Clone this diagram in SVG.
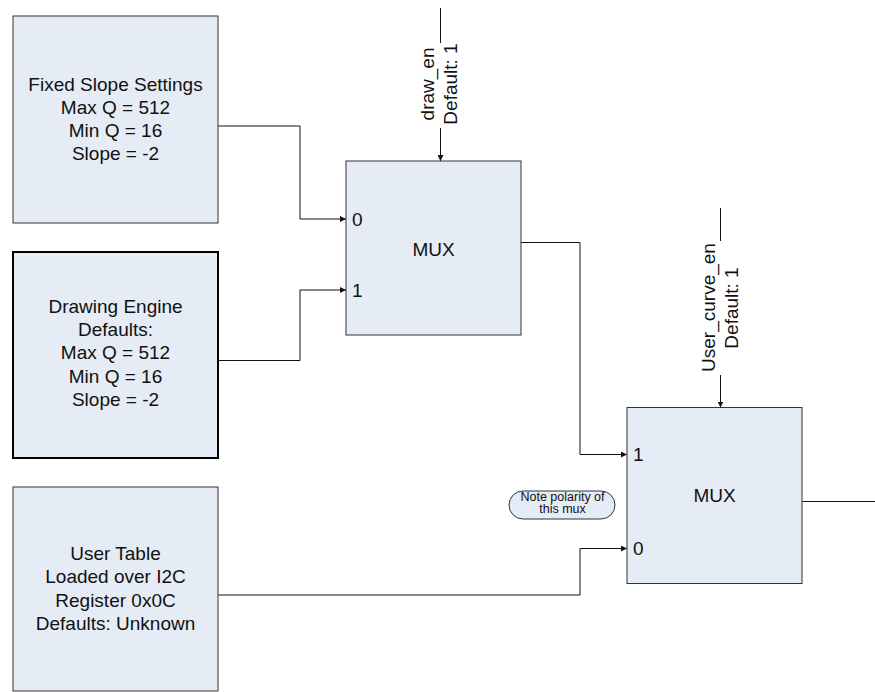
<svg xmlns="http://www.w3.org/2000/svg" width="875" height="692" viewBox="0 0 875 692">
<defs>
<style>
.box{fill:#e6ecf6;stroke:#333;stroke-width:1}
.thick{stroke:#000;stroke-width:2}
.t{font-family:"Liberation Sans",Arial,sans-serif;font-size:19px;fill:#111;text-anchor:middle}
.p{font-family:"Liberation Sans",Arial,sans-serif;font-size:19px;fill:#111}
.n{font-family:"Liberation Sans",Arial,sans-serif;font-size:12.5px;fill:#111;text-anchor:middle}
.c{fill:none;stroke:#111;stroke-width:1}
</style>
<marker id="arr" markerUnits="userSpaceOnUse" markerWidth="6" markerHeight="6" refX="6" refY="3" orient="auto">
<path d="M0,0 L6,3 L0,6 z" fill="#111"/>
</marker>
</defs>
<rect width="875" height="692" fill="#fff"/>
<g id="connectors">
<polyline class="c" points="218,126 300,126 300,219 346,219" marker-end="url(#arr)"/>
<polyline class="c" points="218,360.5 300,360.5 300,290 346,290" marker-end="url(#arr)"/>
<polyline class="c" points="521,242.5 580,242.5 580,454.5 627,454.5" marker-end="url(#arr)"/>
<polyline class="c" points="218,595 580,595 580,548.5 627,548.5" marker-end="url(#arr)"/>
<line class="c" x1="802" y1="501.5" x2="875" y2="501.5"/>
<line class="c" x1="440.5" y1="8" x2="440.5" y2="43"/>
<line class="c" x1="440.5" y1="128" x2="440.5" y2="161" marker-end="url(#arr)"/>
<line class="c" x1="720.5" y1="208" x2="720.5" y2="241"/>
<line class="c" x1="720.5" y1="375" x2="720.5" y2="407.5" marker-end="url(#arr)"/>
</g>
<g id="fixed-slope">
<rect class="box" x="13" y="16" width="205" height="207"/>
<text class="t" x="115.5" y="90.5">Fixed Slope Settings</text>
<text class="t" x="115.5" y="113.5">Max Q = 512</text>
<text class="t" x="115.5" y="136.5">Min Q = 16</text>
<text class="t" x="115.5" y="159.5">Slope = -2</text>
</g>
<g id="drawing-engine">
<rect class="box thick" x="13" y="252" width="205" height="206"/>
<text class="t" x="115.5" y="312.7">Drawing Engine</text>
<text class="t" x="115.5" y="336">Defaults:</text>
<text class="t" x="115.5" y="359.3">Max Q = 512</text>
<text class="t" x="115.5" y="382.6">Min Q = 16</text>
<text class="t" x="115.5" y="406">Slope = -2</text>
</g>
<g id="user-table">
<rect class="box" x="13" y="487" width="205" height="204"/>
<text class="t" x="115.5" y="560">User Table</text>
<text class="t" x="115.5" y="583.3">Loaded over I2C</text>
<text class="t" x="115.5" y="606.6">Register 0x0C</text>
<text class="t" x="115.5" y="630">Defaults: Unknown</text>
</g>
<g id="mux1">
<rect class="box" x="346" y="161" width="175" height="174"/>
<text class="t" x="433.5" y="256">MUX</text>
<text class="p" x="352" y="226">0</text>
<text class="p" x="352" y="297">1</text>
<text class="t" transform="translate(434,84) rotate(-90)">draw_en</text>
<text class="t" transform="translate(457,84) rotate(-90)">Default: 1</text>
</g>
<g id="mux2">
<rect class="box" x="627" y="407.5" width="175" height="176"/>
<text class="t" x="714.5" y="501.7">MUX</text>
<text class="p" x="633" y="460.5">1</text>
<text class="p" x="633" y="555">0</text>
<text class="t" transform="translate(715,307.5) rotate(-90)">User_curve_en</text>
<text class="t" transform="translate(737.5,308) rotate(-90)">Default: 1</text>
</g>
<g id="note">
<rect class="box" x="509" y="491" width="106" height="28" rx="14" ry="14"/>
<text class="n" x="562.5" y="500.5">Note polarity of</text>
<text class="n" x="562.5" y="513">this mux</text>
</g>
</svg>
